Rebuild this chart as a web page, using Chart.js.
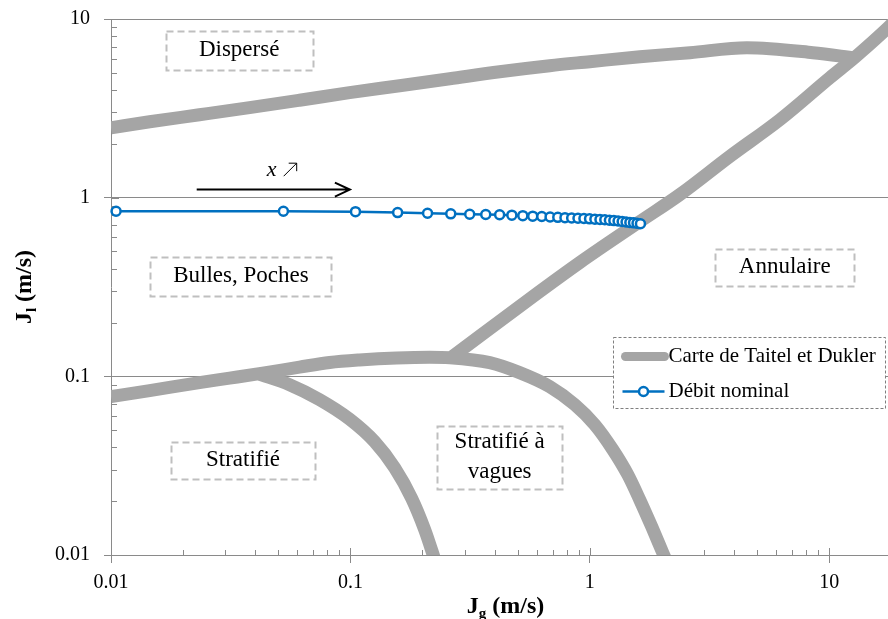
<!DOCTYPE html>
<html>
<head>
<meta charset="utf-8">
<script src="https://cdn.jsdelivr.net/npm/chart.js@4.4.1/dist/chart.umd.min.js"></script>
<style>
  html, body { margin: 0; padding: 0; background: #fff; }
</style>
</head>
<body>
<canvas id="myChart1" width="888" height="619"></canvas>
<script>
// carte de Taitel et Dukler + point de fonctionnement
const tickVals = [0.01, 0.1, 1, 10];

// frontiere dispersé
const dispJg = [0.01, 0.0145, 0.0234, 0.0379, 0.0613, 0.0992, 0.1605, 0.26, 0.42, 0.68, 1.0, 1.62, 2.62, 4.53, 8.54, 12.8];
const dispJl = [2.46, 2.66, 2.91, 3.19, 3.51, 3.87, 4.23, 4.63, 5.07, 5.48, 5.77, 6.15, 6.48, 6.91, 6.48, 6.05];
// frontiere annulaire
const annJg = [0.267, 0.577, 0.907, 1.616, 2.376, 3.84, 6.22, 10.06, 12.8, 17.6, 20];
const annJl = [0.129, 0.279, 0.433, 0.734, 1.04, 1.70, 2.73, 4.69, 6.1, 8.94, 10.6];
// frontiere stratifié / intermittent
const intJg = [0.01, 0.0145, 0.0234, 0.0313, 0.043, 0.0613, 0.0819, 0.109, 0.156, 0.214, 0.26, 0.382, 0.509, 0.68, 0.865, 1.048, 1.247, 1.44, 1.616, 1.814, 2.017, 2.16];
const intJl = [0.077, 0.0832, 0.0922, 0.0977, 0.1042, 0.1126, 0.1195, 0.1235, 0.1268, 0.128, 0.1272, 0.1193, 0.1049, 0.0876, 0.0694, 0.0537, 0.0389, 0.0282, 0.0204, 0.0144, 0.0103, 0.0083];
// frontiere stratifié / vagues
const wavJg = [0.041, 0.0557, 0.0743, 0.0992, 0.1262, 0.153, 0.1802, 0.2042, 0.227];
const wavJl = [0.1035, 0.0898, 0.0741, 0.0576, 0.0431, 0.0308, 0.0208, 0.0139, 0.0091];

// débit nominal
const jg = [0.0105, 0.0525, 0.105, 0.1575, 0.21, 0.2625, 0.315, 0.3675, 0.42, 0.4725, 0.525, 0.5775, 0.63, 0.6825, 0.735, 0.7875,
            0.84, 0.8925, 0.945, 0.9975, 1.05, 1.1025, 1.155, 1.2075, 1.26, 1.3125, 1.365, 1.4175, 1.47, 1.5225, 1.575, 1.6275];
const jl = [0.84, 0.84, 0.835, 0.825, 0.818, 0.812, 0.808, 0.805, 0.802, 0.798, 0.793, 0.788, 0.784, 0.779, 0.776, 0.773,
            0.77, 0.767, 0.764, 0.761, 0.758, 0.755, 0.752, 0.748, 0.744, 0.74, 0.736, 0.731, 0.727, 0.723, 0.719, 0.715];

function pts(xs, ys) { return xs.map((x, i) => ({x: x, y: ys[i]})); }
const cut = {x: 1, y: null};
const carte = [].concat(pts(dispJg, dispJl), [cut], pts(annJg, annJl), [cut], pts(intJg, intJl), [cut], pts(wavJg, wavJl));

const SERIF = "'Liberation Serif', 'Times New Roman', serif";
const AXIS = '#8a8a8a';

// etiquettes des regimes (ancrées en coordonnées données)
const regions = [
  {lines: ['Dispersé'], x: 0.0343, y: 6.69, w: 147, h: 39},
  {lines: ['Bulles, Poches'], x: 0.0349, y: 0.364, w: 181, h: 39},
  {lines: ['Annulaire'], x: 6.52, y: 0.408, w: 139, h: 37},
  {lines: ['Stratifié'], x: 0.0356, y: 0.034, w: 144, h: 37},
  {lines: ['Stratifié à', 'vagues'], x: 0.42, y: 0.0353, w: 125, h: 63}
];

function drawTitle(c, main, sub, rest, cx, cy, rot) {
  c.save();
  c.translate(cx, cy);
  if (rot) c.rotate(-Math.PI / 2);
  c.fillStyle = '#000';
  c.textBaseline = 'alphabetic';
  c.textAlign = 'left';
  const big = 'bold 24px ' + SERIF, small = 'bold 15px ' + SERIF;
  c.font = big; const w1 = c.measureText(main).width, w3 = c.measureText(rest).width;
  c.font = small; const w2 = c.measureText(sub).width;
  let x = -(w1 + w2 + w3) / 2;
  c.font = big; c.fillText(main, x, 8); x += w1;
  c.font = small; c.fillText(sub, x, 13); x += w2;
  c.font = big; c.fillText(rest, x, 8);
  c.restore();
}

const decor = {
  id: 'decor',
  beforeDatasetsDraw(chart) {
    const c = chart.ctx, xs = chart.scales.x, ys = chart.scales.y, a = chart.chartArea;
    c.save();
    c.strokeStyle = AXIS;
    c.lineWidth = 1;
    c.beginPath();
    tickVals.forEach(d => {
      for (let m = 1; m <= 9; m++) {
        const v = d * m, len = m === 1 ? 7 : 5;
        if (v >= xs.min && v <= xs.max) {
          const px = Math.round(xs.getPixelForValue(v)) + 0.5;
          c.moveTo(px, a.bottom); c.lineTo(px, a.bottom - len);
        }
        if (v >= ys.min && v <= ys.max) {
          const py = Math.round(ys.getPixelForValue(v)) + 0.5;
          c.moveTo(a.left, py); c.lineTo(a.left + len + 1, py);
        }
      }
    });
    c.stroke();
    c.restore();
  },
  afterDatasetsDraw(chart) {
    const c = chart.ctx, xs = chart.scales.x, ys = chart.scales.y;
    c.save();
    // boites des regimes
    regions.forEach(r => {
      const cx = xs.getPixelForValue(r.x), cy = ys.getPixelForValue(r.y);
      const l = Math.round(cx - r.w / 2) + 0.5, t = Math.round(cy - r.h / 2) + 0.5;
      c.fillStyle = '#fff';
      c.fillRect(l, t, r.w, r.h);
      c.setLineDash([7, 4]);
      c.strokeStyle = '#bfbfbf';
      c.lineWidth = 2;
      c.strokeRect(l, t, r.w, r.h);
      c.setLineDash([]);
      c.fillStyle = '#000';
      c.font = '23px ' + SERIF;
      c.textAlign = 'center';
      c.textBaseline = 'middle';
      r.lines.forEach((s, i) => {
        c.fillText(s, cx, cy + (i - (r.lines.length - 1) / 2) * 30);
      });
    });

    // fleche x
    const ax0 = xs.getPixelForValue(0.0228), ax1 = xs.getPixelForValue(0.0995), ay = ys.getPixelForValue(1.11);
    c.strokeStyle = '#000';
    c.lineWidth = 2;
    c.beginPath();
    c.moveTo(ax0, ay); c.lineTo(ax1, ay);
    c.moveTo(ax1 - 15, ay - 7); c.lineTo(ax1, ay); c.lineTo(ax1 - 15, ay + 7);
    c.stroke();
    const tx = xs.getPixelForValue(0.0447), ty = ys.getPixelForValue(1.319);
    c.fillStyle = '#000';
    c.font = 'italic 22px ' + SERIF;
    c.textAlign = 'left';
    c.textBaseline = 'alphabetic';
    c.fillText('x', tx, ty);
    c.lineWidth = 1;
    c.beginPath();
    c.moveTo(tx + 17, ty); c.lineTo(tx + 30, ty - 13);
    c.moveTo(tx + 22, ty - 13); c.lineTo(tx + 30, ty - 13); c.lineTo(tx + 30, ty - 5);
    c.stroke();

    // legende
    const gray = chart.data.datasets[0], blue = chart.data.datasets[1];
    const L = Math.round(xs.getPixelForValue(1.247)) + 0.5, T = Math.round(ys.getPixelForValue(0.1667)) + 0.5;
    c.fillStyle = '#fff';
    c.fillRect(L, T, 272, 71);
    c.setLineDash([3, 2]);
    c.strokeStyle = '#7f7f7f';
    c.lineWidth = 1;
    c.strokeRect(L, T, 272, 71);
    c.setLineDash([]);
    c.lineCap = 'round';
    c.strokeStyle = gray.borderColor;
    c.lineWidth = 9;
    c.beginPath(); c.moveTo(L + 12, T + 19); c.lineTo(L + 51, T + 19); c.stroke();
    c.lineCap = 'butt';
    c.strokeStyle = blue.borderColor;
    c.lineWidth = blue.borderWidth;
    c.beginPath(); c.moveTo(L + 9, T + 54); c.lineTo(L + 51, T + 54); c.stroke();
    c.beginPath(); c.arc(L + 30, T + 54, blue.pointRadius, 0, Math.PI * 2);
    c.fillStyle = blue.pointBackgroundColor; c.fill();
    c.lineWidth = blue.pointBorderWidth; c.stroke();
    c.fillStyle = '#000';
    c.font = '21px ' + SERIF;
    c.textAlign = 'left';
    c.textBaseline = 'middle';
    c.fillText(gray.label, L + 55, T + 19);
    c.fillText(blue.label, L + 55, T + 54);
    c.restore();
  },
  afterDraw(chart) {
    const a = chart.chartArea;
    drawTitle(chart.ctx, 'J', 'g', ' (m/s)', (a.left + a.right) / 2 + 6, 605, false);
    drawTitle(chart.ctx, 'J', 'l', ' (m/s)', 23, (a.top + a.bottom) / 2, true);
  }
};

window.onload = function () {
  const ctx = document.getElementById('myChart1').getContext('2d');
  new Chart(ctx, {
    type: 'line',
    data: {
      datasets: [
        {
          label: 'Carte de Taitel et Dukler',
          data: carte,
          borderColor: '#a5a5a5',
          borderWidth: 13,
          borderCapStyle: 'butt',
          borderJoinStyle: 'round',
          pointRadius: 0,
          cubicInterpolationMode: 'monotone',
          spanGaps: false,
          clip: 0,
          order: 2
        },
        {
          label: 'Débit nominal',
          data: pts(jg, jl),
          borderColor: '#0070c0',
          borderWidth: 2.5,
          pointRadius: 4.5,
          pointBorderWidth: 2.5,
          pointBackgroundColor: '#ffffff',
          pointBorderColor: '#0070c0',
          tension: 0,
          clip: 8,
          order: 1
        }
      ]
    },
    options: {
      responsive: false,
      animation: false,
      layout: { autoPadding: false, padding: { top: 19, right: 0, left: 0, bottom: 0 } },
      plugins: { legend: { display: false }, tooltip: { enabled: false } },
      scales: {
        x: {
          type: 'logarithmic',
          min: 0.01,
          max: 17.6,
          afterBuildTicks: s => { s.ticks = tickVals.map(v => ({value: v})); },
          afterFit: s => { s.height = 64; },
          ticks: { callback: v => String(v), color: '#000', font: { family: SERIF, size: 20 }, padding: 8, maxRotation: 0, autoSkip: false },
          grid: { drawOnChartArea: false, drawTicks: true, tickLength: 8, color: AXIS },
          border: { display: true, color: AXIS }
        },
        y: {
          type: 'logarithmic',
          min: 0.01,
          max: 10,
          afterBuildTicks: s => { s.ticks = tickVals.map(v => ({value: v})); },
          afterFit: s => { s.width = 111; },
          ticks: { callback: v => String(v), color: '#000', font: { family: SERIF, size: 20, lineHeight: 0.5 }, padding: 14, autoSkip: false },
          grid: { drawOnChartArea: true, drawTicks: true, tickLength: 7, color: AXIS },
          border: { display: true, color: AXIS }
        }
      }
    },
    plugins: [decor]
  });
};
</script>
</body>
</html>
